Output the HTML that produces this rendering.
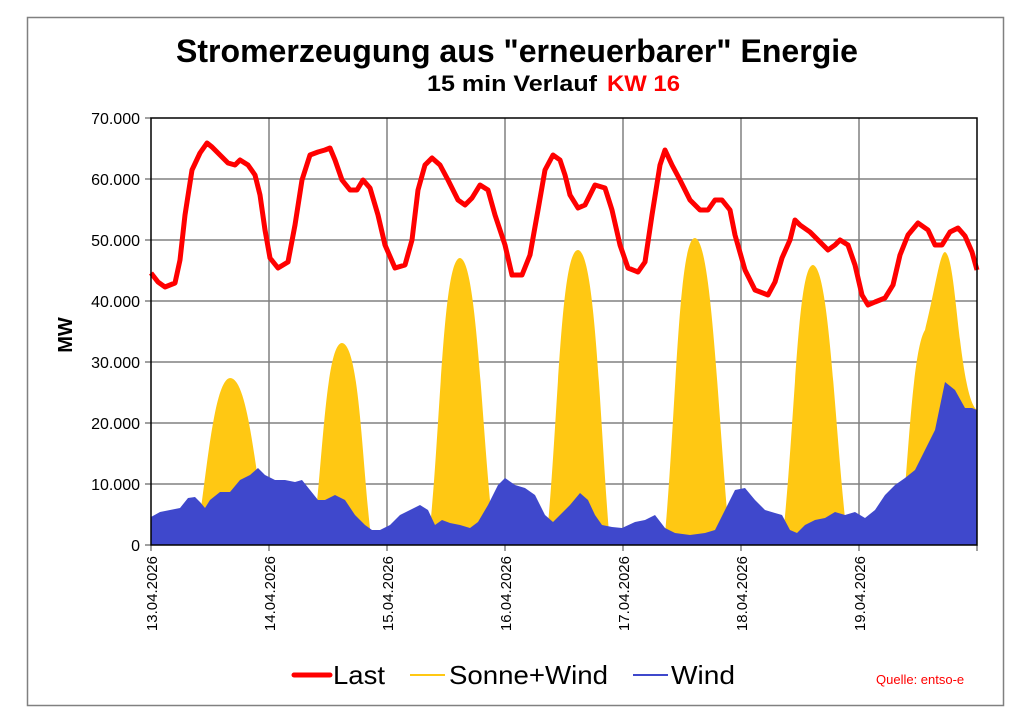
<!DOCTYPE html>
<html><head><meta charset="utf-8"><style>body{margin:0;background:#fff}svg{display:block}</style></head><body>
<svg width="1024" height="724" viewBox="0 0 1024 724" xmlns="http://www.w3.org/2000/svg" font-family="Liberation Sans, Arial, sans-serif">
<rect x="0" y="0" width="1024" height="724" fill="#fff"/>
<rect x="27.5" y="17.5" width="976" height="688" fill="#fff" stroke="#808080" stroke-width="1.5"/>
<text x="517" y="62" font-size="32" font-weight="bold" text-anchor="middle" textLength="682" lengthAdjust="spacingAndGlyphs">Stromerzeugung aus "erneuerbarer" Energie</text>
<text x="427" y="91" font-size="22" font-weight="bold" textLength="170" lengthAdjust="spacingAndGlyphs">15 min Verlauf</text>
<text x="607" y="91" font-size="22" font-weight="bold" fill="#ff0000" textLength="73" lengthAdjust="spacingAndGlyphs">KW 16</text>
<g stroke="#808080" stroke-width="1.5">
<line x1="151" y1="484" x2="977" y2="484"/><line x1="151" y1="423" x2="977" y2="423"/><line x1="151" y1="362" x2="977" y2="362"/><line x1="151" y1="301" x2="977" y2="301"/><line x1="151" y1="240" x2="977" y2="240"/><line x1="151" y1="179" x2="977" y2="179"/>
<line x1="269" y1="118" x2="269" y2="545"/><line x1="387" y1="118" x2="387" y2="545"/><line x1="505" y1="118" x2="505" y2="545"/><line x1="623" y1="118" x2="623" y2="545"/><line x1="741" y1="118" x2="741" y2="545"/><line x1="859" y1="118" x2="859" y2="545"/>
<line x1="145" y1="118" x2="151" y2="118"/><line x1="145" y1="179" x2="151" y2="179"/><line x1="145" y1="240" x2="151" y2="240"/><line x1="145" y1="301" x2="151" y2="301"/><line x1="145" y1="362" x2="151" y2="362"/><line x1="145" y1="423" x2="151" y2="423"/><line x1="145" y1="484" x2="151" y2="484"/><line x1="145" y1="545" x2="151" y2="545"/>
<line x1="151" y1="545" x2="151" y2="551"/><line x1="269" y1="545" x2="269" y2="551"/><line x1="387" y1="545" x2="387" y2="551"/><line x1="505" y1="545" x2="505" y2="551"/><line x1="623" y1="545" x2="623" y2="551"/><line x1="741" y1="545" x2="741" y2="551"/><line x1="859" y1="545" x2="859" y2="551"/><line x1="977" y1="545" x2="977" y2="551"/>
</g>
<g fill="#FFC813">
<path d="M195,545 C205,500 212,380 230,378 C248,378 255,470 268,545Z"/>
<path d="M312,545 C322,480 325,343 342,343 C360,345 362,470 372,545Z"/>
<path d="M428,545 C440,450 442,258 460,258 C478,260 482,450 495,545Z"/>
<path d="M546,545 C558,430 560,250 578,250 C596,252 600,430 610,545Z"/>
<path d="M664,545 C676,420 678,238 695,238 C712,240 718,420 730,545Z"/>
<path d="M782,545 C795,430 797,265 813,265 C830,268 835,440 848,545Z"/>
<path d="M900,545 C908,470 912,350 925,330 C935,290 940,252 945,252 C952,255 955,300 960,340 C965,380 970,405 977,410 L977,545Z"/>
</g>
<path fill="#3F48CC" d="M151,545 L151,517 160,512 170,510 180,508 188,498 195,497 200,502 205,508 210,500 220,492 230,492 240,480 250,475 258,468 265,475 275,480 285,480 295,482 302,480 310,490 318,500 325,500 335,495 345,500 355,515 365,525 372,530 380,530 390,525 400,515 410,510 420,505 428,510 435,525 442,520 450,523 460,525 470,528 478,522 488,505 498,485 505,478 515,485 525,488 535,495 545,515 553,522 560,515 570,505 580,493 588,500 595,515 602,525 612,527 622,528 635,522 645,520 655,515 665,528 675,533 690,535 705,533 715,530 725,510 735,490 745,488 755,500 765,510 775,513 782,515 790,530 797,533 805,525 815,520 825,518 835,512 845,515 855,512 865,518 875,510 885,495 895,485 905,478 915,470 925,450 935,430 945,382 955,390 965,408 972,408 977,410 L977,545Z"/>
<polyline fill="none" stroke="#ff0000" stroke-width="5" stroke-linejoin="round" points="151,273 158,282 165,287 175,283 180,260 185,215 192,170 200,153 207,143 212,147 220,155 228,163 235,165 240,160 248,165 255,175 260,195 265,230 270,258 278,268 288,262 295,225 302,180 310,155 318,152 325,150 330,148 335,160 342,180 350,190 357,190 363,180 370,188 378,215 385,245 395,268 405,265 412,240 418,190 425,165 432,158 440,165 448,180 458,200 465,205 472,198 480,185 488,190 495,215 505,245 512,275 522,275 530,255 538,210 545,170 553,155 560,160 565,175 570,195 578,208 585,205 595,185 605,188 612,210 620,245 628,268 638,272 645,262 652,215 660,165 665,150 672,165 680,180 690,200 700,210 708,210 715,200 722,200 730,210 735,235 745,270 755,290 768,295 775,282 782,258 790,240 795,220 800,225 810,232 818,240 828,250 835,245 840,240 848,245 855,265 862,295 868,305 875,302 885,298 893,285 900,255 908,235 918,223 928,230 935,245 942,245 950,232 958,228 965,236 972,252 977,270"/>
<rect x="151" y="118" width="826" height="427" fill="none" stroke="#000" stroke-width="1.5"/>
<g font-size="16" text-anchor="end">
<text x="140" y="124">70.000</text><text x="140" y="185">60.000</text><text x="140" y="246">50.000</text><text x="140" y="307">40.000</text><text x="140" y="368">30.000</text><text x="140" y="429">20.000</text><text x="140" y="490">10.000</text><text x="140" y="551">0</text>
</g>
<text transform="translate(72,335) rotate(-90)" font-size="20" font-weight="bold" text-anchor="middle">MW</text>
<g font-size="15" text-anchor="end">
<text transform="translate(157,556) rotate(-90)">13.04.2026</text>
<text transform="translate(275,556) rotate(-90)">14.04.2026</text>
<text transform="translate(393,556) rotate(-90)">15.04.2026</text>
<text transform="translate(511,556) rotate(-90)">16.04.2026</text>
<text transform="translate(629,556) rotate(-90)">17.04.2026</text>
<text transform="translate(747,556) rotate(-90)">18.04.2026</text>
<text transform="translate(865,556) rotate(-90)">19.04.2026</text>
</g>
<line x1="294" y1="675" x2="330" y2="675" stroke="#ff0000" stroke-width="5" stroke-linecap="round"/>
<text x="333" y="684" font-size="26" textLength="52" lengthAdjust="spacingAndGlyphs">Last</text>
<line x1="410" y1="675" x2="445" y2="675" stroke="#FFC813" stroke-width="2"/>
<text x="449" y="684" font-size="26" textLength="159" lengthAdjust="spacingAndGlyphs">Sonne+Wind</text>
<line x1="633" y1="675" x2="668" y2="675" stroke="#3F48CC" stroke-width="2"/>
<text x="671" y="684" font-size="26" textLength="64" lengthAdjust="spacingAndGlyphs">Wind</text>
<text x="876" y="684" font-size="13" fill="#ff0000">Quelle: entso-e</text>
</svg>
</body></html>
